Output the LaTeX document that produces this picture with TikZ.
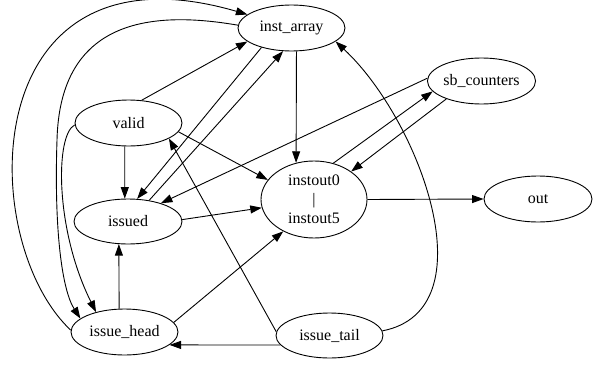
\documentclass[tikz,border=0pt]{standalone}
\usepackage{fontspec}
\setmainfont{Liberation Serif}
\usetikzlibrary{shapes.geometric,arrows.meta}
\begin{document}
\begin{tikzpicture}[x=1pt,y=-1pt,
  nd/.style={ellipse,draw,line width=0.9pt,inner sep=0pt,minimum width=107pt,minimum height=46pt,font=\fontsize{16}{19}\selectfont},
  ed/.style={line width=0.9pt,-{Triangle[length=11.5pt,width=8pt]}}]
\useasboundingbox (0,0) rectangle (602,364);
\node[nd] (ia) at (291.5,28) {inst\_array};
\node[nd] (sb) at (481.5,81) {sb\_counters};
\node[nd] (va) at (128.5,123) {valid};
\node[nd,minimum width=106pt,minimum height=77pt,align=center] (io) at (314,199.5) {instout0\\|\\instout5};
\node[nd,minimum width=108pt] (out) at (538,199) {out};
\node[nd,minimum width=108pt,minimum height=45pt] (is) at (128,221.5) {issued};
\node[nd] (ih) at (124.5,332) {issue\_head};
\node[nd,minimum height=45pt] (it) at (329.5,335.5) {issue\_tail};
\coordinate (bend) at (57,140);
% straight edges
\draw[ed] (io.0) -- (out.180);
\draw[ed] (ia.-78) -- (io.116);
\draw[ed] (io.62) -- (sb.192);
\draw[ed] (sb.207) -- (io.37);
\draw[ed] (sb.177) -- (is.29);
\draw[ed] (va.-99) -- (is.98);
\draw[ed] (va.60) -- (ia.197);
\draw[ed] (ia.213) -- (is.68);
\draw[ed] (is.45) -- (ia.-110);
\draw[ed] (va.-10) -- (io.157);
\draw[ed] (is.2) -- (io.189);
\draw[ed] (ih.103) -- (is.-112);
\draw[ed] (ih.11) -- (io.226);
\draw[ed] (it.191) -- (ih.-16);
\draw[ed] (it.176) -- (va.-21);
% curved edges
\draw[ed] (it.5) .. controls (490,310) and (420,120) .. (ia.-17);
\draw[ed] (ih.178) .. controls (-25,240) and (-25,-65) .. (ia.163);
\draw[ed] (ia.177) .. controls (150,10) and (60,20) .. (bend) .. controls (54,230) and (62,290) .. (ih.163);
\draw[ed] (va.182) .. controls (55,135) and (55,230) .. (ih.145);
\end{tikzpicture}
\end{document}
